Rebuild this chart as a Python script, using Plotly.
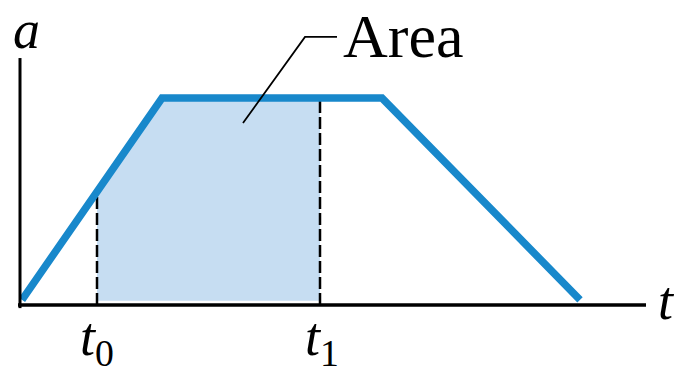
import numpy as np
import plotly.graph_objects as go

# Acceleration profile: ramp up, constant, ramp down
t_curve = [0.2, 14.2, 36.2, 56.0]
a_curve = [0.025, 1.0, 1.0, 0.025]

# Integration interval
t0 = 7.7
t1 = 30.0
a_floor = 0.02

# Shaded region under the curve between t0 and t1
t_fill = np.concatenate([[t0], [t for t in t_curve if t0 < t < t1], [t1]])
a_fill = np.interp(t_fill, t_curve, a_curve)
a_t0 = float(np.interp(t0, t_curve, a_curve))
a_t1 = float(np.interp(t1, t_curve, a_curve))

LINE = "#1888cb"
FILL = "#c6ddf2"
SERIF = "Liberation Serif, Times New Roman, serif"

fig = go.Figure()

fig.add_trace(go.Scatter(
    x=np.concatenate([t_fill, [t1, t0]]),
    y=np.concatenate([a_fill, [a_floor, a_floor]]),
    fill="toself", fillcolor=FILL, mode="none", hoverinfo="skip",
))

# Dashed verticals at t0 and t1
for t, a in [(t0, a_t0), (t1, a_t1)]:
    fig.add_trace(go.Scatter(
        x=[t, t], y=[0, a], mode="lines",
        line=dict(color="black", width=2.5, dash="12px,4px"),
        hoverinfo="skip",
    ))

fig.add_trace(go.Scatter(
    x=t_curve, y=a_curve, mode="lines",
    line=dict(color=LINE, width=7.5), hoverinfo="skip",
))

shapes = [
    dict(type="line", xref="x", yref="y", x0=0, x1=0, y0=-0.015, y1=1.193,
         line=dict(color="black", width=3)),
    dict(type="line", xref="x", yref="y", x0=-0.2, x1=62.6, y0=0, y1=0,
         line=dict(color="black", width=3.5)),
    # Leader line for the "Area" label
    dict(type="path", xref="x", yref="y",
         path="M 22.3 0.879 L 28.5 1.295 L 31.7 1.295",
         line=dict(color="black", width=1.8)),
]

annotations = [
    dict(x=0.6, y=1.33, text="<i>a</i>", showarrow=False,
         font=dict(family=SERIF, size=54, color="black")),
    dict(x=32.1, y=1.30, text="Area", showarrow=False, xanchor="left",
         font=dict(family=SERIF, size=62, color="black")),
    dict(x=64.6, y=0.02, text="<i>t</i>", showarrow=False,
         font=dict(family=SERIF, size=54, color="black")),
    dict(x=5.8, y=-0.17, text="<i>t</i><sub>0</sub>", showarrow=False, xanchor="left",
         font=dict(family=SERIF, size=54, color="black")),
    dict(x=28.3, y=-0.17, text="<i>t</i><sub>1</sub>", showarrow=False, xanchor="left",
         font=dict(family=SERIF, size=54, color="black")),
]

fig.update_layout(
    width=674, height=375,
    margin=dict(l=0, r=0, t=0, b=0),
    paper_bgcolor="white", plot_bgcolor="white",
    showlegend=False,
    xaxis=dict(range=[-2.0, 65.4], visible=False, fixedrange=True),
    yaxis=dict(range=[-70 / 207, 305 / 207], visible=False, fixedrange=True),
    shapes=shapes, annotations=annotations,
)

fig.write_html("out.html", config={"displayModeBar": False})
